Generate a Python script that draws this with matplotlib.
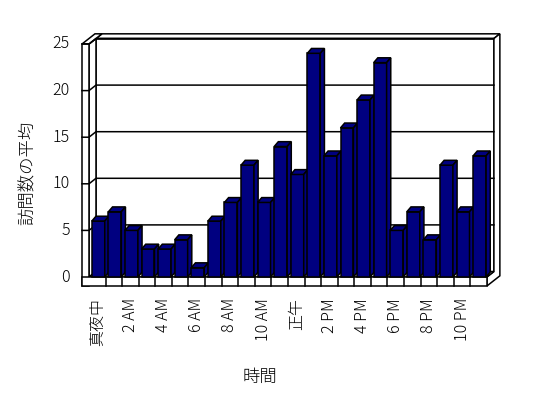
import matplotlib
matplotlib.use("Agg")
import matplotlib.pyplot as plt
from matplotlib.patches import Polygon

plt.rcParams['font.family'] = ['Noto Sans CJK JP', 'DejaVu Sans']
plt.rcParams['font.weight'] = 'light'

# average visits per hour
values = [6, 7, 5, 3, 3, 4, 1, 6, 8, 12, 8, 14, 11, 24, 13, 16, 19, 23, 5, 7, 4, 12, 7, 13]
tick_pos = [0, 2, 4, 6, 8, 10, 12, 14, 16, 18, 20, 22]
tick_labels = ['真夜中', '2 AM', '4 AM', '6 AM', '8 AM', '10 AM',
               '正午', '2 PM', '4 PM', '6 PM', '8 PM', '10 PM']
y_ticks = [0, 5, 10, 15, 20, 25]
x_title = '時間'
y_title = '訪問数の平均'

bar_color = '#000080'
lw = 1.1

# pixel scale of the original: one category = 16.58 px, one unit = 9.32 px
px_x = 16.58
px_y = 9.32

fig = plt.figure(figsize=(5.48, 3.98), dpi=100)
ax = fig.add_axes([0, 0, 1, 1])
ax.set_xlim(-89 / px_x, (548 - 89) / px_x)
ax.set_ylim(-121 / px_y, (398 - 121) / px_y)
ax.axis('off')

n = len(values)
W = n
ymax = y_ticks[-1]
cx, cy = 7 / px_x, 5.5 / px_y      # depth offset of back wall
t = 7 / px_x                        # left wall thickness
ft = 9 / px_y                       # floor thickness
bt = 0.85                           # back wall thickness (depth units)


def P(x, y, z):
    return (x + z * cx, y + z * cy)


def face(pts, fc='white', z=1):
    ax.add_patch(Polygon(pts, closed=True, facecolor=fc, edgecolor='black',
                         linewidth=lw, joinstyle='miter', zorder=z))


# back wall
face([P(0, 0, 1), P(W, 0, 1), P(W, ymax, 1), P(0, ymax, 1)])
# back wall top
face([P(0, ymax, 1), P(W, ymax, 1), P(W, ymax, 1 + bt), P(0, ymax, 1 + bt)])
# right side of back wall + floor
face([P(W, -ft, 0), P(W, -ft, 1 + bt), P(W, ymax, 1 + bt), P(W, ymax, 1),
      P(W, 0, 1), P(W, 0, 0)])
# left wall inner face
face([P(0, 0, 0), P(0, 0, 1), P(0, ymax, 1), P(0, ymax, 0)])
# left wall top
face([P(-t, ymax, 0), P(0, ymax, 0), P(0, ymax, 1 + bt), P(-t, ymax, 1 + bt)])
# left wall front face
face([P(-t, -ft, 0), P(0, -ft, 0), P(0, ymax, 0), P(-t, ymax, 0)])
# floor top
face([P(0, 0, 0), P(W, 0, 0), P(W, 0, 1), P(0, 0, 1)])
# floor front
face([P(-t, -ft, 0), P(W, -ft, 0), P(W, 0, 0), P(-t, 0, 0)])

# gridlines
for v in y_ticks[1:]:
    xs = [-t, 0, 0 + cx, W + cx]
    ys = [v, v, v + cy, v + cy]
    ax.plot(xs, ys, color='black', lw=lw, zorder=2)
for v in y_ticks:
    ax.text(-t - 0.75, v, str(v), ha='right', va='center', fontsize=11.5)

# category dividers on the floor front
for i in range(1, n):
    ax.plot([i, i], [-ft, 0], color='black', lw=lw, zorder=2)

# bars
bw = 0.78
off = 0.17
bdx, bdy = 0.25, 0.52
for i, v in enumerate(values):
    x0 = i + off
    x1 = x0 + bw
    face([(x0, 0), (x1, 0), (x1, v), (x0, v)], fc=bar_color, z=3)
    face([(x0, v), (x1, v), (x1 + bdx, v + bdy), (x0 + bdx, v + bdy)], fc=bar_color, z=3)
    face([(x1, 0), (x1 + bdx, bdy), (x1 + bdx, v + bdy), (x1, v)], fc=bar_color, z=3)

for p, lab in zip(tick_pos, tick_labels):
    ax.text(p + 0.5, -2.25, lab, rotation=90, ha='center', va='top', fontsize=11.5)

ax.text(10.28, -10.73, x_title, ha='center', va='center', fontsize=12.5)
ax.text(-3.68, 11.2, y_title, rotation=90, ha='center', va='center', fontsize=12.5)

fig.savefig('out.png', dpi=100)
